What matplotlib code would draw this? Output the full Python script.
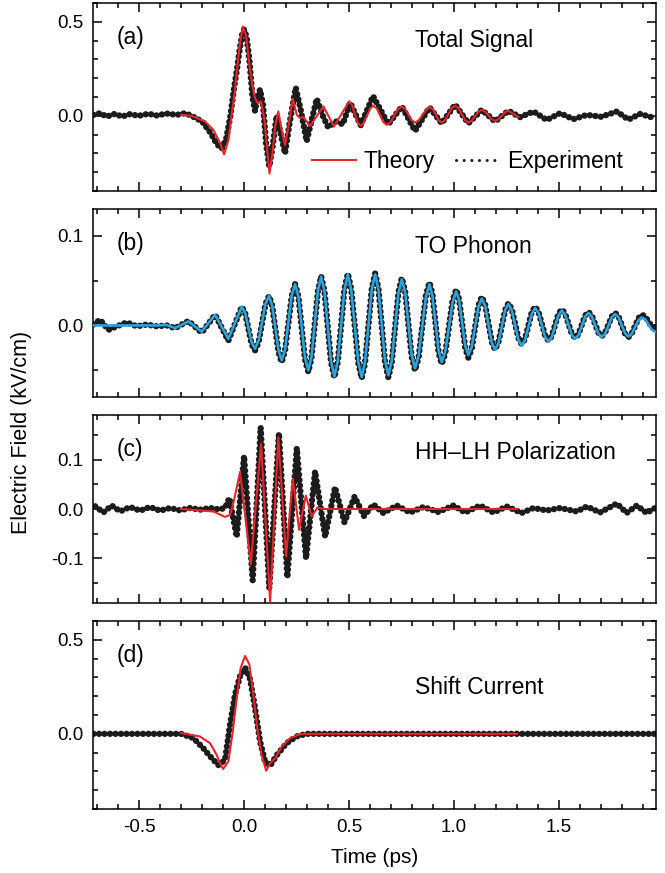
import numpy as np
import matplotlib
matplotlib.use("Agg")
import matplotlib.pyplot as plt
from matplotlib.ticker import MultipleLocator, FixedLocator, FormatStrFormatter
from matplotlib.lines import Line2D

plt.rcParams.update({"font.family": ["Liberation Sans", "DejaVu Sans"], "font.size": 13.5,
                     "axes.unicode_minus": False, "axes.linewidth": 1.1})

RED, BLUE, BLACK = "#E4262C", "#2BA3DC", "#1C1C1C"

# (a) total signal: experiment / theory (time in ps, field in kV/cm)
a_exp_t = [-0.717, -0.686, -0.654, -0.614, -0.582, -0.543, -0.503, -0.456, -0.416, -0.368,
           -0.321, -0.281, -0.25, -0.2, -0.16, -0.13, -0.106, -0.085, -0.065, -0.05,
           -0.035, -0.02, -0.008, 0.0, 0.012, 0.025, 0.04, 0.052, 0.064, 0.076,
           0.09, 0.105, 0.12, 0.135, 0.155, 0.175, 0.195, 0.215, 0.246, 0.27,
           0.298, 0.32, 0.346, 0.375, 0.40, 0.44, 0.47, 0.505, 0.555, 0.614,
           0.687, 0.751, 0.814, 0.883, 0.941, 1.005, 1.068, 1.132, 1.195, 1.259,
           1.314, 1.378, 1.441, 1.505, 1.568, 1.632, 1.70, 1.775, 1.83, 1.886, 1.955]
a_exp_v = [0.005, 0.014, -0.004, 0.011, -0.004, 0.009, 0.0, 0.011, 0.002, 0.012,
           0.005, 0.014, 0.0, -0.03, -0.09, -0.15, -0.175, -0.12, 0.0, 0.13,
           0.24, 0.36, 0.44, 0.46, 0.42, 0.3, 0.1, 0.025, 0.1, 0.14,
           0.06, -0.15, -0.27, -0.17, 0.0, -0.1, -0.2, -0.05, 0.15, 0.03,
           -0.135, -0.03, 0.09, 0.0, -0.06, -0.03, -0.045, 0.07, -0.05, 0.105,
           -0.045, 0.05, -0.08, 0.045, -0.04, 0.06, -0.04, 0.032, -0.03, 0.027,
           -0.007, 0.023, -0.022, 0.014, -0.018, 0.005, -0.005, 0.023, -0.02, 0.01, -0.012]
a_th_t = [-0.30, -0.249, -0.186, -0.146, -0.114, -0.095, -0.075, -0.056, -0.043, -0.032,
          -0.019, -0.006, 0.01, 0.024, 0.04, 0.052, 0.065, 0.081, 0.097, 0.11,
          0.121, 0.135, 0.148, 0.163, 0.179, 0.195, 0.211, 0.232, 0.251, 0.267,
          0.283, 0.314, 0.378, 0.428,
          0.5, 0.514, 0.540, 0.554, 0.570, 0.600, 0.616, 0.632, 0.663, 0.679,
          0.697, 0.733, 0.751, 0.767, 0.798, 0.814, 0.832, 0.868, 0.886, 0.900,
          0.927, 0.941, 0.957, 0.989, 1.005, 1.021, 1.052, 1.068, 1.084, 1.116,
          1.132, 1.148, 1.179, 1.195, 1.211, 1.243, 1.259, 1.306]
a_th_v = [0.005, 0.0, -0.03, -0.075, -0.146, -0.205, -0.13, 0.032, 0.14, 0.264,
          0.39, 0.475, 0.425, 0.28, 0.157, 0.095, 0.068, 0.077, -0.021, -0.18,
          -0.307, -0.2, -0.057, 0.023, -0.075, -0.155, -0.057, 0.091, 0.005, -0.012,
          -0.007, -0.054, 0.05, -0.057,
          0.077, 0.058, -0.035, -0.054, -0.038, 0.038, 0.054, 0.039, -0.033, -0.048,
          -0.034, 0.036, 0.05, 0.037, -0.023, -0.036, -0.024, 0.034, 0.046, 0.034,
          -0.024, -0.036, -0.023, 0.041, 0.054, 0.041, -0.023, -0.036, -0.026, 0.022,
          0.032, 0.023, -0.018, -0.027, -0.019, 0.019, 0.027, -0.007]

# (b) TO phonon: experiment and theory share one time grid
b_t = [-0.717, -0.686, -0.646, -0.606, -0.559, -0.511, -0.463, -0.416, -0.368, -0.329,
       -0.265, -0.202, -0.138, -0.075,
       -0.011, 0.005, 0.036, 0.052, 0.069, 0.102, 0.119, 0.134, 0.164, 0.179,
       0.195, 0.227, 0.243, 0.259, 0.29, 0.306, 0.321, 0.352, 0.367, 0.383,
       0.414, 0.43, 0.446, 0.478, 0.494, 0.51, 0.544, 0.56, 0.576, 0.608,
       0.624, 0.64, 0.671, 0.687, 0.703, 0.735, 0.751, 0.767, 0.798, 0.814,
       0.831, 0.866, 0.883, 0.897, 0.926, 0.941, 0.958, 0.993, 1.01, 1.024,
       1.053, 1.068, 1.084, 1.116, 1.132, 1.148, 1.179, 1.195, 1.211, 1.243,
       1.259, 1.275, 1.306, 1.322, 1.338, 1.37, 1.386, 1.402, 1.433, 1.449,
       1.465, 1.497, 1.513, 1.529, 1.56, 1.576, 1.592, 1.624, 1.64, 1.656,
       1.687, 1.703, 1.719, 1.751, 1.767, 1.783, 1.814, 1.83, 1.846, 1.878,
       1.894, 1.91, 1.941, 1.957]
b_exp_v = [0.001, 0.0064, -0.0049, -0.001, 0.0034, -0.001, 0.001, -0.001, 0.0, -0.003,
           0.005, -0.008, 0.012, -0.017,
           0.021, 0.014, -0.021, -0.028, -0.019, 0.024, 0.033, 0.022, -0.030, -0.041,
           -0.028, 0.033, 0.046, 0.032, -0.038, -0.052, -0.036, 0.039, 0.055, 0.038,
           -0.041, -0.058, -0.041, 0.041, 0.058, 0.041, -0.042, -0.059, -0.042, 0.041,
           0.058, 0.041, -0.041, -0.058, -0.042, 0.037, 0.053, 0.038, -0.035, -0.05,
           -0.036, 0.034, 0.048, 0.035, -0.030, -0.043, -0.031, 0.028, 0.04, 0.029,
           -0.025, -0.036, -0.026, 0.022, 0.032, 0.023, -0.018, -0.027, -0.019, 0.017,
           0.025, 0.018, -0.014, -0.021, -0.015, 0.015, 0.021, 0.015, -0.011, -0.017,
           -0.012, 0.013, 0.018, 0.013, -0.009, -0.014, -0.010, 0.011, 0.015, 0.011,
           -0.008, -0.012, -0.008, 0.010, 0.014, 0.010, -0.009, -0.013, -0.009, 0.008,
           0.012, 0.010, -0.001, -0.003]
b_th_v = [0.0, 0.0, 0.0, 0.0, 0.0, 0.0, 0.0, 0.0, 0.0005, -0.003,
          0.0045, -0.007, 0.012, -0.015,
          0.021, 0.014, -0.019, -0.026, -0.017, 0.024, 0.033, 0.022, -0.028, -0.039,
          -0.027, 0.034, 0.046, 0.032, -0.036, -0.05, -0.035, 0.039, 0.0545, 0.038,
          -0.040, -0.057, -0.040, 0.040, 0.057, 0.040, -0.041, -0.0575, -0.041, 0.040,
          0.057, 0.040, -0.039, -0.0556, -0.040, 0.036, 0.0515, 0.037, -0.033, -0.048,
          -0.034, 0.032, 0.046, 0.033, -0.028, -0.041, -0.029, 0.026, 0.038, 0.028,
          -0.023, -0.033, -0.024, 0.021, 0.03, 0.022, -0.019, -0.027, -0.020, 0.017,
          0.024, 0.017, -0.016, -0.0226, -0.016, 0.013, 0.0195, 0.014, -0.0125, -0.018,
          -0.013, 0.0114, 0.0165, 0.012, -0.0103, -0.015, -0.011, 0.0098, 0.014, 0.010,
          -0.009, -0.013, -0.0092, 0.009, 0.0128, 0.0091, -0.0087, -0.0124, -0.0093, 0.0059,
          0.009, 0.0067, -0.0047, -0.007]

# (c) HH-LH polarization
c_exp_t = [-0.709, -0.67, -0.63, -0.59, -0.543, -0.495, -0.448, -0.4, -0.352, -0.305,
           -0.257, -0.21, -0.162, -0.114, -0.09, -0.07, -0.035, 0.0, 0.041, 0.079,
           0.12, 0.166, 0.206, 0.251, 0.295, 0.338, 0.386, 0.433, 0.478, 0.526,
           0.571, 0.616, 0.663, 0.727, 0.79, 0.854, 0.925, 0.997, 1.052, 1.124,
           1.187, 1.251, 1.322, 1.378, 1.441, 1.505, 1.584, 1.632, 1.695, 1.775,
           1.822, 1.87, 1.917, 1.957]
c_exp_v = [0.0054, -0.0068, 0.0068, -0.0047, 0.004, -0.0034, 0.004, -0.0034, 0.002, -0.0027,
           0.002, -0.0014, 0.002, -0.001, 0.003, 0.022, -0.056, 0.107, -0.144, 0.165,
           -0.16, 0.153, -0.138, 0.123, -0.1, 0.076, -0.056, 0.044, -0.027, 0.025,
           -0.014, 0.009, -0.008, 0.007, -0.007, 0.004, -0.006, 0.007, -0.007, 0.007,
           -0.007, 0.005, -0.008, 0.002, -0.003, 0.002, -0.005, 0.005, -0.007, 0.011,
           -0.008, 0.007, -0.008, 0.002]
c_th_t = [-0.30, -0.146, -0.091, -0.067, -0.051, -0.019, 0.032, 0.081, 0.124, 0.163,
          0.2, 0.232, 0.262, 0.294, 0.322, 0.349, 0.378, 1.30]
c_th_v = [0.0, -0.005, -0.016, -0.012, 0.012, 0.075, -0.112, 0.132, -0.188, 0.145,
          -0.096, 0.062, -0.042, 0.027, -0.015, 0.003, 0.0, 0.0]

# (d) shift current
d_exp_t = [-0.717, -0.30, -0.241, -0.194, -0.154, -0.122, -0.091, -0.067, -0.043, -0.019,
           0.005, 0.029, 0.052, 0.076, 0.1, 0.124, 0.156, 0.202, 0.25, 0.298, 1.955]
d_exp_v = [0.0, 0.0, -0.023, -0.077, -0.13, -0.166, -0.14, 0.048, 0.21, 0.307,
           0.352, 0.29, 0.138, -0.04, -0.148, -0.17, -0.113, -0.05, -0.014, 0.0, 0.0]
d_th_t = [-0.30, -0.21, -0.162, -0.13, -0.115, -0.10, -0.075, -0.054, -0.035, -0.016, 0.005,
          0.025, 0.044, 0.063, 0.084, 0.105, 0.124, 0.148, 0.179, 0.219, 0.267, 0.314, 1.30]
d_th_v = [0.004, -0.014, -0.05, -0.113, -0.155, -0.187, -0.148, 0.012, 0.19, 0.352, 0.414,
          0.37, 0.21, 0.03, -0.113, -0.196, -0.157, -0.13, -0.068, -0.023, -0.002, 0.0, 0.0]

panels = [
    ("(a)", "Total Signal", 0.80, (a_exp_t, a_exp_v), (a_th_t, a_th_v), RED, (-0.4, 0.6), [0.0, 0.5], 0.1),
    ("(b)", "TO Phonon", 0.80, (b_t, b_exp_v), (b_t, b_th_v), BLUE, (-0.08, 0.13), [0.0, 0.1], 0.05),
    ("(c)", "HH\u2013LH Polarization", 0.80, (c_exp_t, c_exp_v), (c_th_t, c_th_v), RED, (-0.19, 0.19), [-0.1, 0.0, 0.1], 0.05),
    ("(d)", "Shift Current", 0.645, (d_exp_t, d_exp_v), (d_th_t, d_th_v), RED, (-0.4, 0.6), [0.0, 0.5], 0.1),
]
bottoms = [0.7812, 0.5452, 0.3093, 0.0733]
L, W, H = 0.1403, 0.8457, 0.2153

exp_style = dict(color=BLACK, lw=4.6, ls=(0, (0.01, 0.85)), dash_capstyle="round", zorder=2)

fig = plt.figure(figsize=(6.65, 8.73), dpi=100)
axes = []
for (lab, title, ty, exp, th, tcol, ylim, ymaj, ymin), b in zip(panels, bottoms):
    ax = fig.add_axes([L, b, W, H])
    ax.plot(exp[0], exp[1], **exp_style)
    ax.plot(th[0], th[1], color=tcol, lw=1.5 if tcol == RED else 1.9, zorder=3,
            solid_joinstyle="round")
    ax.set_xlim(-0.718, 1.96)
    ax.set_ylim(*ylim)
    ax.xaxis.set_major_locator(MultipleLocator(0.5))
    ax.xaxis.set_minor_locator(MultipleLocator(0.1))
    ax.yaxis.set_major_locator(FixedLocator(ymaj))
    ax.yaxis.set_minor_locator(MultipleLocator(ymin))
    ax.yaxis.set_major_formatter(FormatStrFormatter("%.1f"))
    ax.xaxis.set_major_formatter(FormatStrFormatter("%.1f"))
    ax.tick_params(which="both", direction="in", top=True, right=True, width=1.1, pad=7,
                   labelbottom=False)
    ax.tick_params(which="major", length=6.5)
    ax.tick_params(which="minor", length=3.7)
    ax.text(0.041, 0.815, lab, transform=ax.transAxes, fontsize=16.5, va="center", ha="left")
    ax.text(0.572, ty, title, transform=ax.transAxes, fontsize=16.5, va="center", ha="left")
    axes.append(ax)

axes[-1].tick_params(labelbottom=True)

handles = [Line2D([], [], color=RED, lw=1.5),
           Line2D([], [], color=BLACK, lw=2.2, ls=(0, (0.01, 2.5)), dash_capstyle="round")]
axes[0].legend(handles, ["Theory", "Experiment"], loc="center left", bbox_to_anchor=(0.389, 0.155),
               ncol=2, frameon=False, fontsize=16.5, handlelength=1.9, handletextpad=0.35,
               columnspacing=0.9, borderpad=0, borderaxespad=0)

fig.text(0.033, 0.505, "Electric Field (kV/cm)", rotation=90, va="center", ha="center", fontsize=15.5)
fig.text(L + W / 2, 0.0183, "Time (ps)", va="center", ha="center", fontsize=15)

fig.savefig("out.png", dpi=100)
